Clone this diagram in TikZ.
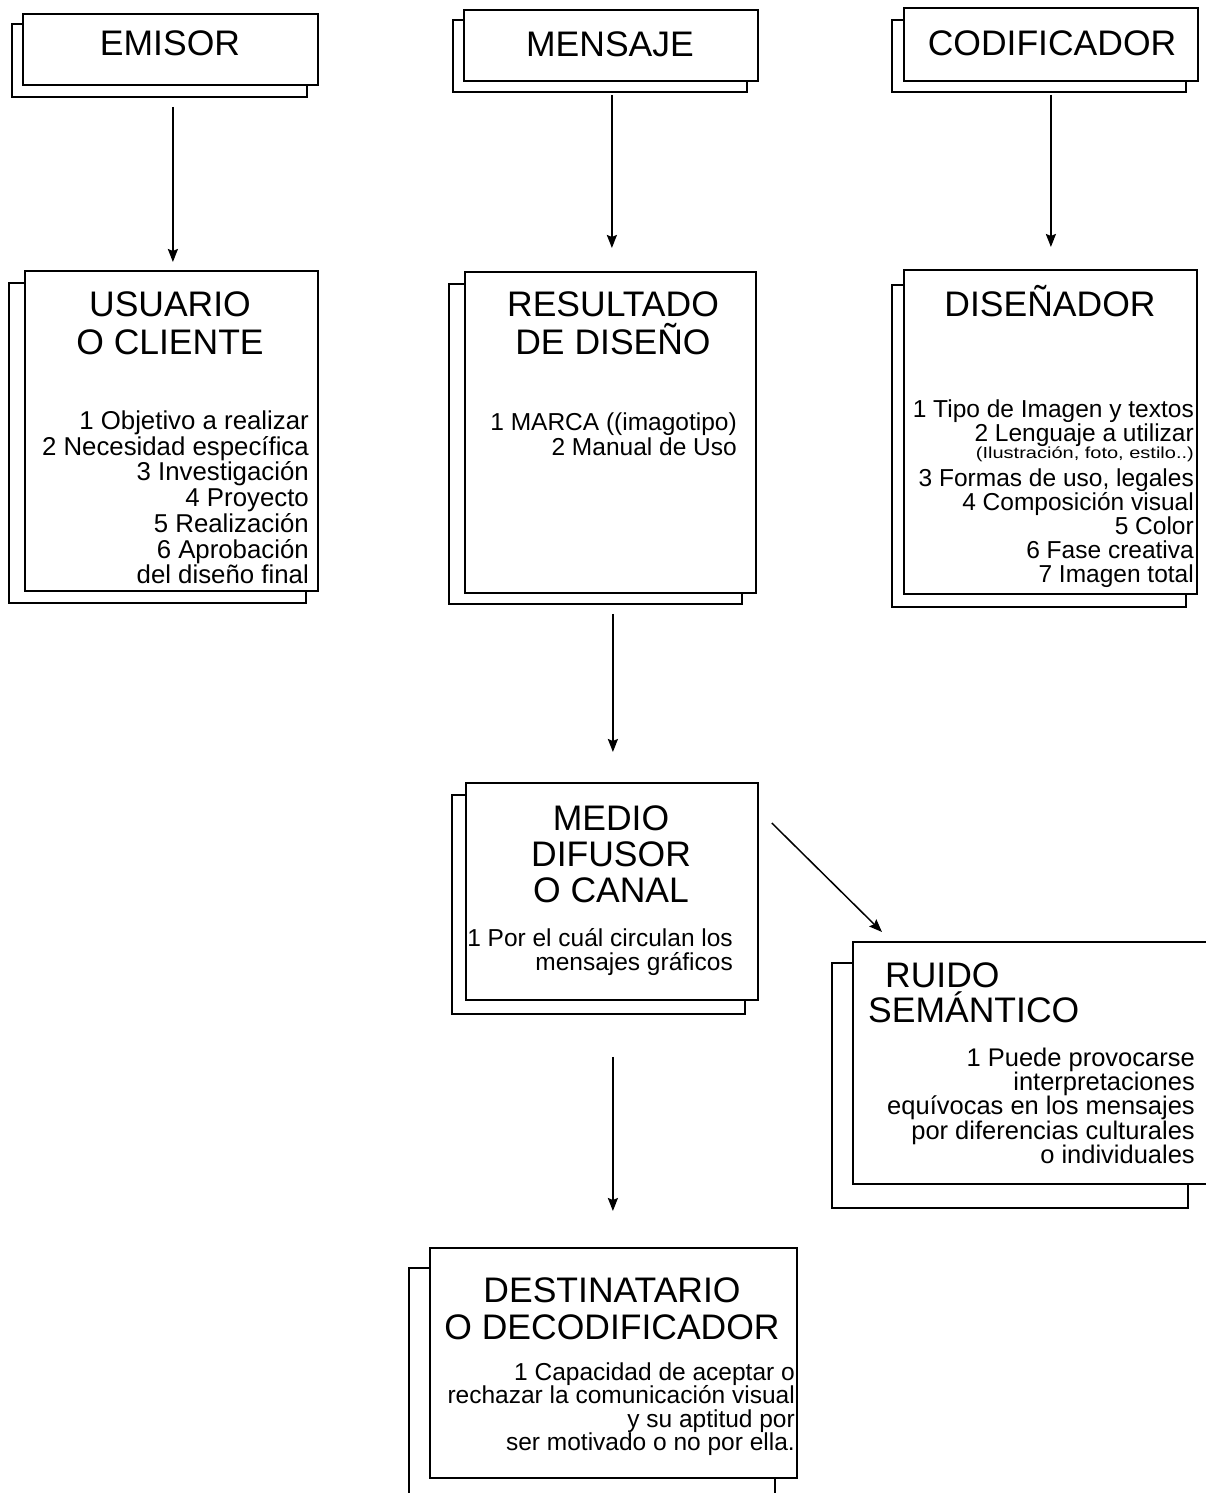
\documentclass[tikz,border=0pt]{standalone}
\usepackage{fontspec}
\setmainfont{Liberation Sans}
\usepackage{graphicx}
\usetikzlibrary{arrows.meta}
\newcommand\fl{\rule{0pt}{1em}}
\newcommand\ttlf[1]{\fontsize{35.5}{#1}\selectfont\lineskiplimit=-100pt\relax}
\newcommand\itmf[2]{\fontsize{#1}{#2}\selectfont\lineskiplimit=-100pt\relax}
\begin{document}
\begin{tikzpicture}[x=1pt,y=-1pt,
  cardbox/.style={draw, line width=1.8pt, fill=white, inner sep=0pt, anchor=north west},
  shadowline/.style={draw, line width=1.8pt},
  link/.style={line width=2pt, -{Stealth[length=13pt,width=10pt,inset=2pt]}},
  ttl/.style={anchor=north, inner sep=0pt, align=center},
  itm/.style={anchor=north east, inner sep=0pt, align=right}]
\useasboundingbox (0,0) rectangle (1205,1493);

% shadow sheets
\draw[shadowline] (12,24) rectangle (307,97);
\draw[shadowline] (453,20) rectangle (747,92);
\draw[shadowline] (892,20) rectangle (1186,92);
\draw[shadowline] (9,283) rectangle (306,603);
\draw[shadowline] (449,284) rectangle (742,604);
\draw[shadowline] (892,285) rectangle (1186,607);
\draw[shadowline] (452,795) rectangle (745,1014);
\draw[shadowline] (832,963) rectangle (1188,1208);
\draw[shadowline] (409,1268) rectangle (775,1510);

% front sheets
\node[cardbox, minimum width=295pt, minimum height=71pt] (emisor) at (22,13) {};
\node[cardbox, minimum width=294pt, minimum height=71pt] (mensaje) at (463,9) {};
\node[cardbox, minimum width=294pt, minimum height=73pt] (codif) at (903,7) {};
\node[cardbox, minimum width=293pt, minimum height=320pt] (usuario) at (24,270) {};
\node[cardbox, minimum width=291pt, minimum height=321pt] (resultado) at (464,271) {};
\node[cardbox, minimum width=293pt, minimum height=324pt] (disenador) at (903,269) {};
\node[cardbox, minimum width=292pt, minimum height=217pt] (medio) at (465,782) {};
\node[cardbox, minimum width=360pt, minimum height=242pt] (ruido) at (852,941) {};
\node[cardbox, minimum width=367pt, minimum height=230pt] (dest) at (429,1247) {};

% titles
\node[ttl, font={\ttlf{38}}] (t1) at (170,19.5) {\fl EMISOR};
\node[ttl, font={\ttlf{38}}] (t2) at (610,20.5) {\fl MENSAJE};
\node[ttl, font={\ttlf{38}}] (t3) at (1052,19.5) {\fl CODIFICADOR};
\node[ttl, font={\ttlf{38}}] (t4) at (170,280.5) {\fl USUARIO\\O CLIENTE};
\node[ttl, font={\ttlf{38}}] (t5) at (613,280.5) {\fl RESULTADO\\DE DISEÑO};
\node[ttl, font={\ttlf{38}}] (t6) at (1050,280.5) {\fl DISEÑADOR};
\node[ttl, font={\ttlf{36}}] (t7) at (611,794.5) {\fl MEDIO\\DIFUSOR\\O CANAL};
\node[ttl, anchor=north west, align=left, font={\ttlf{35}}] (t8) at (868,951.5) {\fl\hspace*{17pt}RUIDO\\SEMÁNTICO};
\node[ttl, font={\ttlf{37}}] (t9) at (612,1266.5) {\fl DESTINATARIO\\O DECODIFICADOR};

% item lists
\node[itm, font={\itmf{25.8}{25.7}}] (i4) at (309,403.5) {\fl 1 Objetivo a realizar\\2 Necesidad específica\\3 Investigación\\4 Proyecto\\5 Realización\\6 Aprobación\\del diseño final};
\node[itm, font={\itmf{24.5}{25}}] (i5) at (737,405.5) {\fl 1 MARCA ((imagotipo)\\2 Manual de Uso};
\node[itm, font={\itmf{24.5}{24}}] (i6) at (1194,392.5) {\fl 1 Tipo de Imagen y textos\\2 Lenguaje a utilizar\\[-7pt]\scalebox{1.25}[1]{\fontsize{16}{16}\selectfont (Ilustración, foto, estilo..)}\\[4pt]3 Formas de uso, legales\\4 Composición visual\\5 Color\\6 Fase creativa\\7 Imagen total};
\node[itm, font={\itmf{24.5}{24}}] (i7) at (733,921.5) {\fl 1 Por el cuál circulan los\\mensajes gráficos};
\node[itm, font={\itmf{25.5}{24.3}}] (i8) at (1195,1040.5) {\fl 1 Puede provocarse\\interpretaciones\\equívocas en los mensajes\\por diferencias culturales\\o individuales};
\node[itm, font={\itmf{24.5}{23.5}}] (i9) at (795,1355.5) {\fl 1 Capacidad de aceptar o\\rechazar la comunicación visual\\y su aptitud por\\ser motivado o no por ella.};

% connectors
\draw[link] ([shift={(2.5,21)}]emisor.south) -- ([shift={(1.5,-8)}]usuario.north);
\draw[link] ([shift={(1,13)}]mensaje.south) -- ([shift={(1.5,-23)}]resultado.north);
\draw[link] ([shift={(0,13)}]codif.south) -- ([shift={(0.5,-22)}]disenador.north);
\draw[link] ([shift={(2.5,20)}]resultado.south) -- ([shift={(1,-30)}]medio.north);
\draw[link] ([shift={(1,56)}]medio.south) -- ([shift={(-0.5,-36)}]dest.north);
\draw[link, line width=1.5pt] ([shift={(13,41)}]medio.north east) -- ([shift={(30,-9)}]ruido.north west);
\end{tikzpicture}
\end{document}
